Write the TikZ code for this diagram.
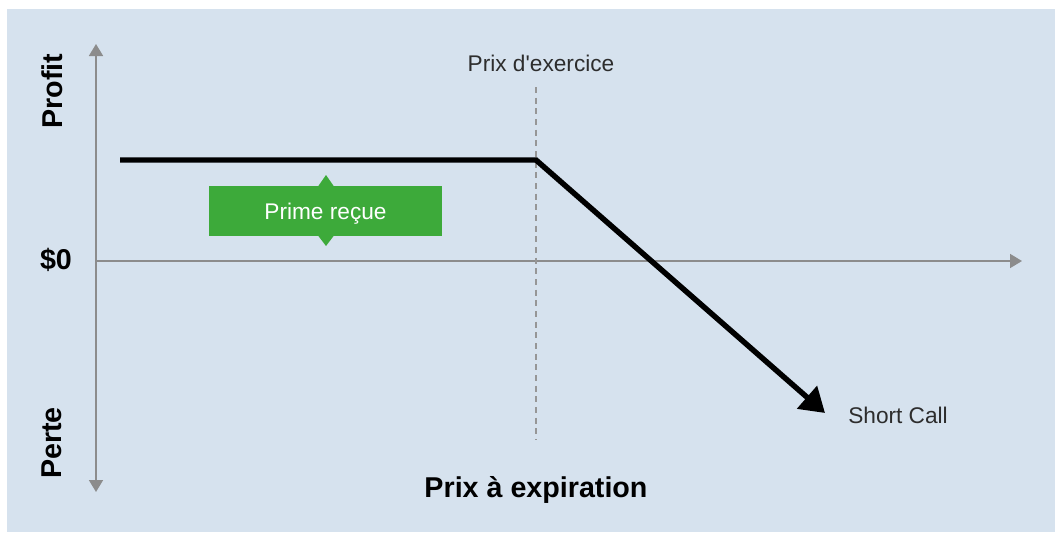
\documentclass[tikz,border=0pt]{standalone}
\usepackage{fontspec}
\setmainfont{Liberation Sans}
\newfontfamily\plainsans{Liberation Sans}[Ligatures=TeXOff]
\usetikzlibrary{arrows.meta}
\definecolor{bgblue}{RGB}{214,226,238}
\definecolor{axisgray}{RGB}{140,140,140}
\definecolor{dashgray}{RGB}{150,150,150}
\definecolor{primegreen}{RGB}{61,170,58}
\definecolor{textgray}{RGB}{45,45,45}
\tikzset{
  axisline/.style={draw=axisgray, line width=1.3pt, -{Triangle[length=9pt,width=10.5pt]}},
  payoff/.style={draw=black, line width=4.1pt, line join=miter},
  thinlabel/.style={font=\plainsans\fontsize{17}{20}\selectfont, text=textgray, inner sep=0pt},
  boldlabel/.style={font=\fontsize{21.5}{25}\selectfont\bfseries, text=black, inner sep=0pt},
}
\begin{document}
\begin{tikzpicture}[x=0.75pt, y=-0.75pt]
  \useasboundingbox (0,0) rectangle (1055,532);
  \fill[white] (0,0) rectangle (1055,532);
  \fill[bgblue] (7,9) rectangle (1055,532);

  % axes
  \coordinate (origin) at (96,261);
  \coordinate (ytop) at (96,44);
  \coordinate (ybot) at (96,492);
  \coordinate (xend) at (1022,261);
  \draw[axisline] (origin) -- (ytop);
  \draw[axisline] (origin) -- (ybot);
  \draw[axisline] (origin) -- (xend);

  % strike dashed line
  \coordinate (strtop) at (536,87);
  \coordinate (strbot) at (536,440);
  \draw[dashgray, line width=1pt, dash pattern=on 4.5pt off 3.5pt] (strtop) -- (strbot);

  % payoff
  \coordinate (pstart) at (120,160);
  \coordinate (pkink) at (536,160);
  \coordinate (pend) at (825,413);
  \draw[payoff, -{Triangle[length=18pt,width=22pt]}] (pstart) -- (pkink) -- (pend);

  % premium box with little arrows
  \fill[primegreen] (209,186) rectangle (442,236);
  \fill[primegreen] (318,186.5) -- (326,175) -- (334,186.5) -- cycle;
  \fill[primegreen] (318,235.5) -- (326,246) -- (334,235.5) -- cycle;
  \node[thinlabel, text=white, anchor=base] (prime) at (325.5,219) {Prime reçue};

  % labels
  \node[thinlabel, anchor=base] (strike) at (541,71) {Prix d'exercice};
  \node[thinlabel, anchor=base west] (short) at (848,423) {Short Call};
  \node[boldlabel, anchor=base] (xlabel) at (536,497) {Prix à expiration};
  \node[boldlabel, anchor=base] (zero) at (56,269) {\$0};
  \node[boldlabel, rotate=90] (profit) at (52,91) {Profit};
  \node[boldlabel, rotate=90] (perte) at (52,443) {Perte};
\end{tikzpicture}
\end{document}
